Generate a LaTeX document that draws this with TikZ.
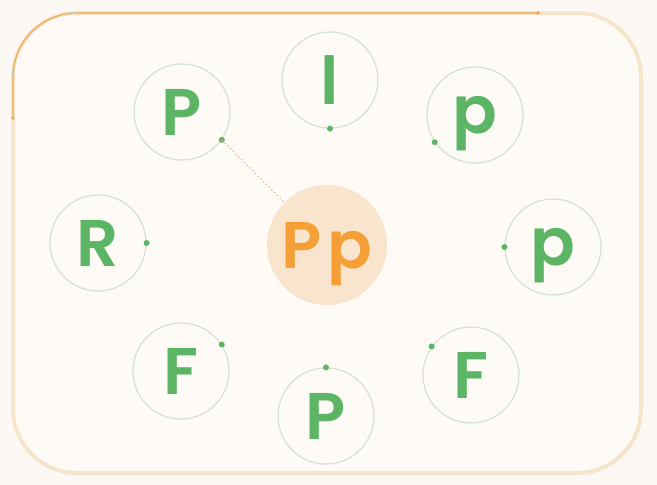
\documentclass[tikz,border=0pt]{standalone}
\usepackage{fontspec}
\usepackage{tikz}
\usetikzlibrary{positioning,calc}
\newfontfamily\letrafont{Poppins SemiBold}
\definecolor{verde}{HTML}{5CB565}
\definecolor{laranja}{HTML}{F4A037}
\definecolor{pessego}{HTML}{F9E4CE}
\definecolor{aroverde}{HTML}{D3E2D3}
\definecolor{creme}{HTML}{FEFAF5}
\definecolor{fundo}{HTML}{FCF8F3}
\definecolor{bege}{HTML}{F6E5CB}
\definecolor{traco}{HTML}{E9A550}
\definecolor{rosado}{HTML}{E6B49C}

\begin{document}
\begin{tikzpicture}[x=1pt, y=-1pt,
  moldura/.style={bege, line width=4pt, fill=creme, rounded corners=64pt},
  aro/.style={circle, draw=aroverde, line width=1.2pt, minimum size=96pt,
    inner sep=0pt, text depth=0pt, text=verde,
    font=\letrafont\fontsize{66}{66}\selectfont},
  miolo/.style={circle, fill=pessego, minimum size=120pt, inner sep=0pt,
    text depth=0pt, text=laranja, font=\letrafont\fontsize{66}{66}\selectfont},
  borda/.style={traco, line width=1.1pt, rounded corners=64pt},
  elo/.style={rosado, line width=1.3pt, dash pattern=on 1.3pt off 2.6pt}]

\useasboundingbox (0,0) rectangle (657,485);
\fill[fundo] (0,0) rectangle (657,485);

% ================= moldura =================
\draw[moldura] (13,13) rectangle (641,473);
\coordinate (ini) at (13,118);
\coordinate (fim) at (538,13);
\draw[borda] (ini) -- (13,13) -- (fim);
\fill[traco] (ini) circle (1.8pt);
\fill[traco] (fim) circle (1.8pt);

% ================= centro =================
\node[miolo] (centro) at (327,245) {P\hspace{6pt}p};

% ================= letras em volta =================
\node[aro] (pA) at (182,112) {P};
\node[aro] (l)  at (330,80)  {l};
\node[aro] (pB) at (475,115) {p};
\node[aro] (R)  at (98,243)  {R};
\node[aro] (pC) at (553,247) {p};
\node[aro] (fA) at (181,371) {F};
\node[aro] (pD) at (326,416) {P};
\node[aro] (fB) at (471,375) {F};

% pontos nos aros
\foreach \n/\a in {pA/-35, l/-90, pB/-146, R/0, pC/180, fA/33, pD/90, fB/144}
  \fill[verde] (\n.\a) circle (3pt);

\draw[elo] (pA.-35) -- (centro);

\end{tikzpicture}
\end{document}
